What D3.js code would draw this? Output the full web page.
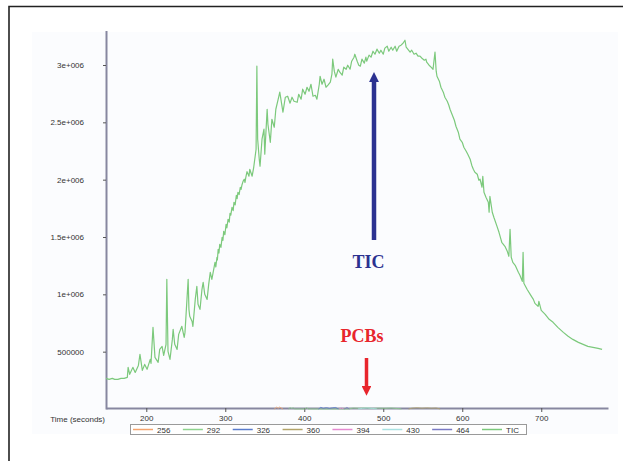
<!DOCTYPE html>
<html>
<head>
<meta charset="utf-8">
<script src="https://cdn.jsdelivr.net/npm/d3@7"></script>
<style>
    body { margin: 0; background: #fff; }
    svg { display: block; }
    .axis text { font-family: "Liberation Sans", Arial, sans-serif; font-size: 8px; fill: #333; }
</style>
</head>
<body>
<div id="chart"></div>
<script>
// TIC trace, [time (s), counts]
var ticData = [
    [149,267000],[153,258000],[157,267000],[160,258000],[164,258000],[168,267000],[172,267000],[176,276000],
    [177,363000],[179,302000],[183,363000],[186,319000],[190,380000],[192,476000],[195,337000],[198,389000],
    [201,346000],[205,433000],[206,398000],[208.5,712000],[211,450000],[215,407000],[217,520000],[220,546000],
    [222,468000],[225,564000],[226,1131000],[227.5,503000],[230,433000],[233,607000],[234,695000],[236,564000],
    [239,520000],[241,651000],[245,721000],[248,625000],[249,668000],[251.5,956000],[253,1131000],[254,869000],
    [255,808000],[258,764000],[259,721000],[262,956000],[264,1070000],[265.5,913000],[268,869000],[270.5,1044000],
    [272,1105000],[274,1000000],[277,956000],[279,1087000],[281,1192000],[283,1131000],[287,1279000],[288,1240000],
    [289.5,1323000],[290,1300000],[291,1393000],[292,1360000],[293,1436000],[294.5,1410000],[296,1497000],[297,1470000],
    [298,1550000],[299.5,1520000],[301,1611000],[302,1580000],[303.5,1654000],[305,1630000],[306,1707000],[307,1690000],
    [308.5,1759000],[310,1730000],[311,1803000],[312.5,1780000],[314,1864000],[315,1835000],[316,1890000],[317.5,1870000],
    [319,1934000],[320,1915000],[321,1951000],[322.5,1985000],[324,2004000],[325,1975000],[326,2021000],[327.5,2070000],
    [329,2047000],[330,2030000],[331,2091000],[332.5,2060000],[334,2030000],[336,2108000],[339,2265000],[340,2990000],
    [341,2353000],[343,2178000],[344,2117000],[346.5,2353000],[349,2440000],[350,2222000],[353,2614000],[354,2483000],
    [357,2326000],[359,2527000],[362,2457000],[364,2614000],[367,2702000],[369,2763000],[372,2632000],[373,2588000],
    [376,2719000],[379,2728000],[382,2667000],[384.5,2719000],[387,2684000],[391,2675000],[393,2745000],[396,2702000],
    [398,2789000],[401,2745000],[403.5,2806000],[406,2771000],[408.5,2832000],[411,2728000],[414,2736000],[416,2702000],
    [419,2832000],[420,2902000],[422.5,2832000],[425,2876000],[427.5,2806000],[430,2824000],[433,2850000],[435,2920000],
    [436,3051000],[438,2946000],[440,2894000],[443,2963000],[445,2937000],[448,2911000],[450,2981000],[453,2963000],
    [455,2998000],[458,2963000],[460,3033000],[463,3068000],[464,3094000],[467,3033000],[469,2998000],[471,2990000],
    [473,3051000],[476,3016000],[478,3068000],[479,3033000],[482,3086000],[484.5,3068000],[487,3120000],[489.5,3094000],
    [492,3138000],[495,3103000],[497,3129000],[500,3094000],[502,3147000],[505,3164000],[507,3120000],[510,3155000],
    [512,3129000],[515,3164000],[517,3120000],[520,3164000],[522.5,3173000],[525,3190000],[527.5,3216000],[529,3155000],
    [531,3138000],[534,3112000],[536,3129000],[539,3094000],[541.5,3103000],[544,3077000],[546.5,3077000],[549,3059000],
    [552,3042000],[554,3051000],[555,3024000],[558,2998000],[560.5,2981000],[563,2963000],[565.5,3112000],[567,2946000],
    [568,2902000],[571,2859000],[573,2806000],[576,2763000],[578,2719000],[581,2684000],[583,2649000],[584.5,2614000],
    [587,2571000],[590,2518000],[592,2466000],[595,2414000],[597,2353000],[600,2326000],[602,2283000],[605,2248000],
    [607,2222000],[610,2178000],[612,2126000],[614,2091000],[616,2065000],[619,2047000],[621,1995000],[622.5,2004000],
    [625,1934000],[626,2030000],[627.5,1890000],[630,1846000],[633,1803000],[634,1716000],[635,1855000],[638,1716000],
    [640,1672000],[644,1593000],[646.5,1541000],[649,1480000],[650,1454000],[654,1419000],[657,1375000],[659,1332000],
    [660.5,1567000],[662,1323000],[664,1279000],[667,1253000],[671,1192000],[673,1166000],[676,1113000],[677,1367000],
    [678,1096000],[682,1044000],[686,1000000],[690,956000],[692,921000],[696,895000],[697,939000],[700,860000],
    [705,825000],[710,782000],[715,756000],[721,712000],[728,668000],[734,634000],[740,607000],[747,581000],
    [753,564000],[759,546000],[765.5,538000],[772,529000],[777,520000]
];

// single-ion traces (PCBs), small peaks near the baseline
var ion256 = [[362,0],[365,16000],[367,6000],[369,18000],[371,7000],[373,0]];
var ion292 = [[380,0],[382,13000],[384,5000],[386,11000],[388,0],[401,0],[403,12000],[405,0],[456,0],[462,9000],[470,6000],[478,10000],[486,5000],[494,8000],[502,6000],[510,9000],[518,4000],[523,0]];
var ion326 = [[418,0],[421,15000],[424,6000],[428,12000],[432,5000],[436,11000],[440,13000],[443,0]];
var ion360 = [[532,0],[537,8000],[543,11000],[549,7000],[555,10000],[561,7000],[567,9000],[572,0]];
var ion394 = [[444,0],[447,8000],[450,0]];
var ion430 = [[468,0],[474,6000],[480,9000],[486,5000],[492,0]];
var ion464 = [[451,0],[454,14000],[457,0]];

var legendNames = ["256", "292", "326", "360", "394", "430", "464", "TIC"];
var legendColors = ["#f4a46e", "#8ed38e", "#5a7ccc", "#b3a46a", "#e58ad0", "#a9e2e2", "#7a7ac4", "#7cc97c"];

var yTicks = [500000, 1000000, 1500000, 2000000, 2500000, 3000000];
var yTickLabels = ["500000", "1e+006", "1.5e+006", "2e+006", "2.5e+006", "3e+006"];
var xTicks = [200, 300, 400, 500, 600, 700];

function init() {
    var w = 623;
    var h = 461;

    var svg = d3.select("#chart")
        .append("svg")
        .attr("width", w)
        .attr("height", h);

    // outer frame (only top and left edges are inside the picture)
    svg.append("path")
        .attr("d", "M9,461 V6.5 H623")
        .attr("fill", "none")
        .attr("stroke", "#222")
        .attr("stroke-width", 1.6);

    // faint panel behind the plot
    svg.append("rect")
        .attr("x", 32).attr("y", 32)
        .attr("width", 586).attr("height", 402)
        .attr("fill", "#fbfcfe");

    var xScale = d3.scaleLinear()
        .domain([149, 784.5])
        .range([106, 608]);

    var yScale = d3.scaleLinear()
        .domain([0, 3300000])
        .range([409, 30.6]);

    var yAxis = d3.axisLeft(yScale)
        .tickValues(yTicks)
        .tickFormat(function(d, i) { return yTickLabels[i]; })
        .tickSize(3)
        .tickSizeOuter(0)
        .tickPadding(19);

    var gy = svg.append("g")
        .attr("class", "axis")
        .attr("transform", "translate(106,0)")
        .call(yAxis);
    gy.select(".domain").attr("stroke", "#8787a0").attr("stroke-width", 2);
    gy.selectAll(".tick line").attr("stroke", "#555");

    var xAxis = d3.axisBottom(xScale)
        .tickValues(xTicks)
        .tickSize(4)
        .tickSizeOuter(0)
        .tickPadding(3);

    var gx = svg.append("g")
        .attr("class", "axis")
        .attr("transform", "translate(0,408)")
        .call(xAxis);
    gx.select(".domain").attr("stroke", "#8787a0").attr("stroke-width", 2);
    gx.selectAll(".tick line").attr("stroke", "#555");

    svg.append("text")
        .attr("x", 105)
        .attr("y", 422)
        .attr("text-anchor", "end")
        .attr("font-family", "Liberation Sans, Arial, sans-serif")
        .attr("font-size", 8)
        .attr("fill", "#333")
        .text("Time (seconds)");

    var line = d3.line()
        .x(function(d) { return xScale(d[0]); })
        .y(function(d) { return yScale(d[1]); });

    // ion traces
    var ions = [ion256, ion292, ion326, ion360, ion394, ion430, ion464];
    ions.forEach(function(ion, i) {
        svg.append("path")
            .datum(ion)
            .attr("d", line)
            .attr("fill", "none")
            .attr("stroke", legendColors[i])
            .attr("stroke-width", 1)
            .attr("opacity", 0.8);
    });

    // TIC trace
    svg.append("path")
        .datum(ticData)
        .attr("d", line)
        .attr("fill", "none")
        .attr("stroke", legendColors[7])
        .attr("stroke-width", 1.2)
        .attr("stroke-linejoin", "round");

    // legend
    var legend = svg.append("g");
    legend.append("rect")
        .attr("x", 130.5).attr("y", 424.5)
        .attr("width", 396).attr("height", 10)
        .attr("fill", "#fff")
        .attr("stroke", "#9a9a9a")
        .attr("stroke-width", 1);

    var items = legend.selectAll(".item")
        .data(legendNames)
        .enter()
        .append("g")
        .attr("class", "item")
        .attr("transform", function(d, i) { return "translate(" + (133 + i * 49.86) + ",429.5)"; });

    items.append("line")
        .attr("x1", 0).attr("x2", 20)
        .attr("stroke", function(d, i) { return legendColors[i]; })
        .attr("stroke-width", 1.5);

    items.append("text")
        .attr("x", 24)
        .attr("y", 3)
        .attr("font-family", "Liberation Sans, Arial, sans-serif")
        .attr("font-size", 8)
        .attr("fill", "#333")
        .text(function(d) { return d; });

    // annotations
    var defs = svg.append("defs");
    defs.append("marker")
        .attr("id", "headBlue")
        .attr("viewBox", "0 0 10 10")
        .attr("refX", 2).attr("refY", 5)
        .attr("markerWidth", 2.2).attr("markerHeight", 2.2)
        .attr("orient", "auto")
        .append("path")
        .attr("d", "M0,0 L10,5 L0,10 Z")
        .attr("fill", "#2b3190");
    defs.append("marker")
        .attr("id", "headRed")
        .attr("viewBox", "0 0 10 10")
        .attr("refX", 2).attr("refY", 5)
        .attr("markerWidth", 2.8).attr("markerHeight", 2.8)
        .attr("orient", "auto")
        .append("path")
        .attr("d", "M0,0 L10,5 L0,10 Z")
        .attr("fill", "#e8252c");

    svg.append("line")
        .attr("x1", 374).attr("y1", 240)
        .attr("x2", 374).attr("y2", 80)
        .attr("stroke", "#2b3190")
        .attr("stroke-width", 4.5)
        .attr("marker-end", "url(#headBlue)");

    svg.append("text")
        .attr("x", 368.5)
        .attr("y", 268)
        .attr("text-anchor", "middle")
        .attr("font-family", "Liberation Serif, Times New Roman, serif")
        .attr("font-weight", "bold")
        .attr("font-size", 18)
        .attr("fill", "#2b3190")
        .text("TIC");

    svg.append("text")
        .attr("x", 362)
        .attr("y", 342)
        .attr("text-anchor", "middle")
        .attr("font-family", "Liberation Serif, Times New Roman, serif")
        .attr("font-weight", "bold")
        .attr("font-size", 18)
        .attr("fill", "#e8252c")
        .text("PCBs");

    svg.append("line")
        .attr("x1", 366.5).attr("y1", 358)
        .attr("x2", 366.5).attr("y2", 388)
        .attr("stroke", "#e8252c")
        .attr("stroke-width", 3.5)
        .attr("marker-end", "url(#headRed)");
}

window.onload = init;
</script>
</body>
</html>
